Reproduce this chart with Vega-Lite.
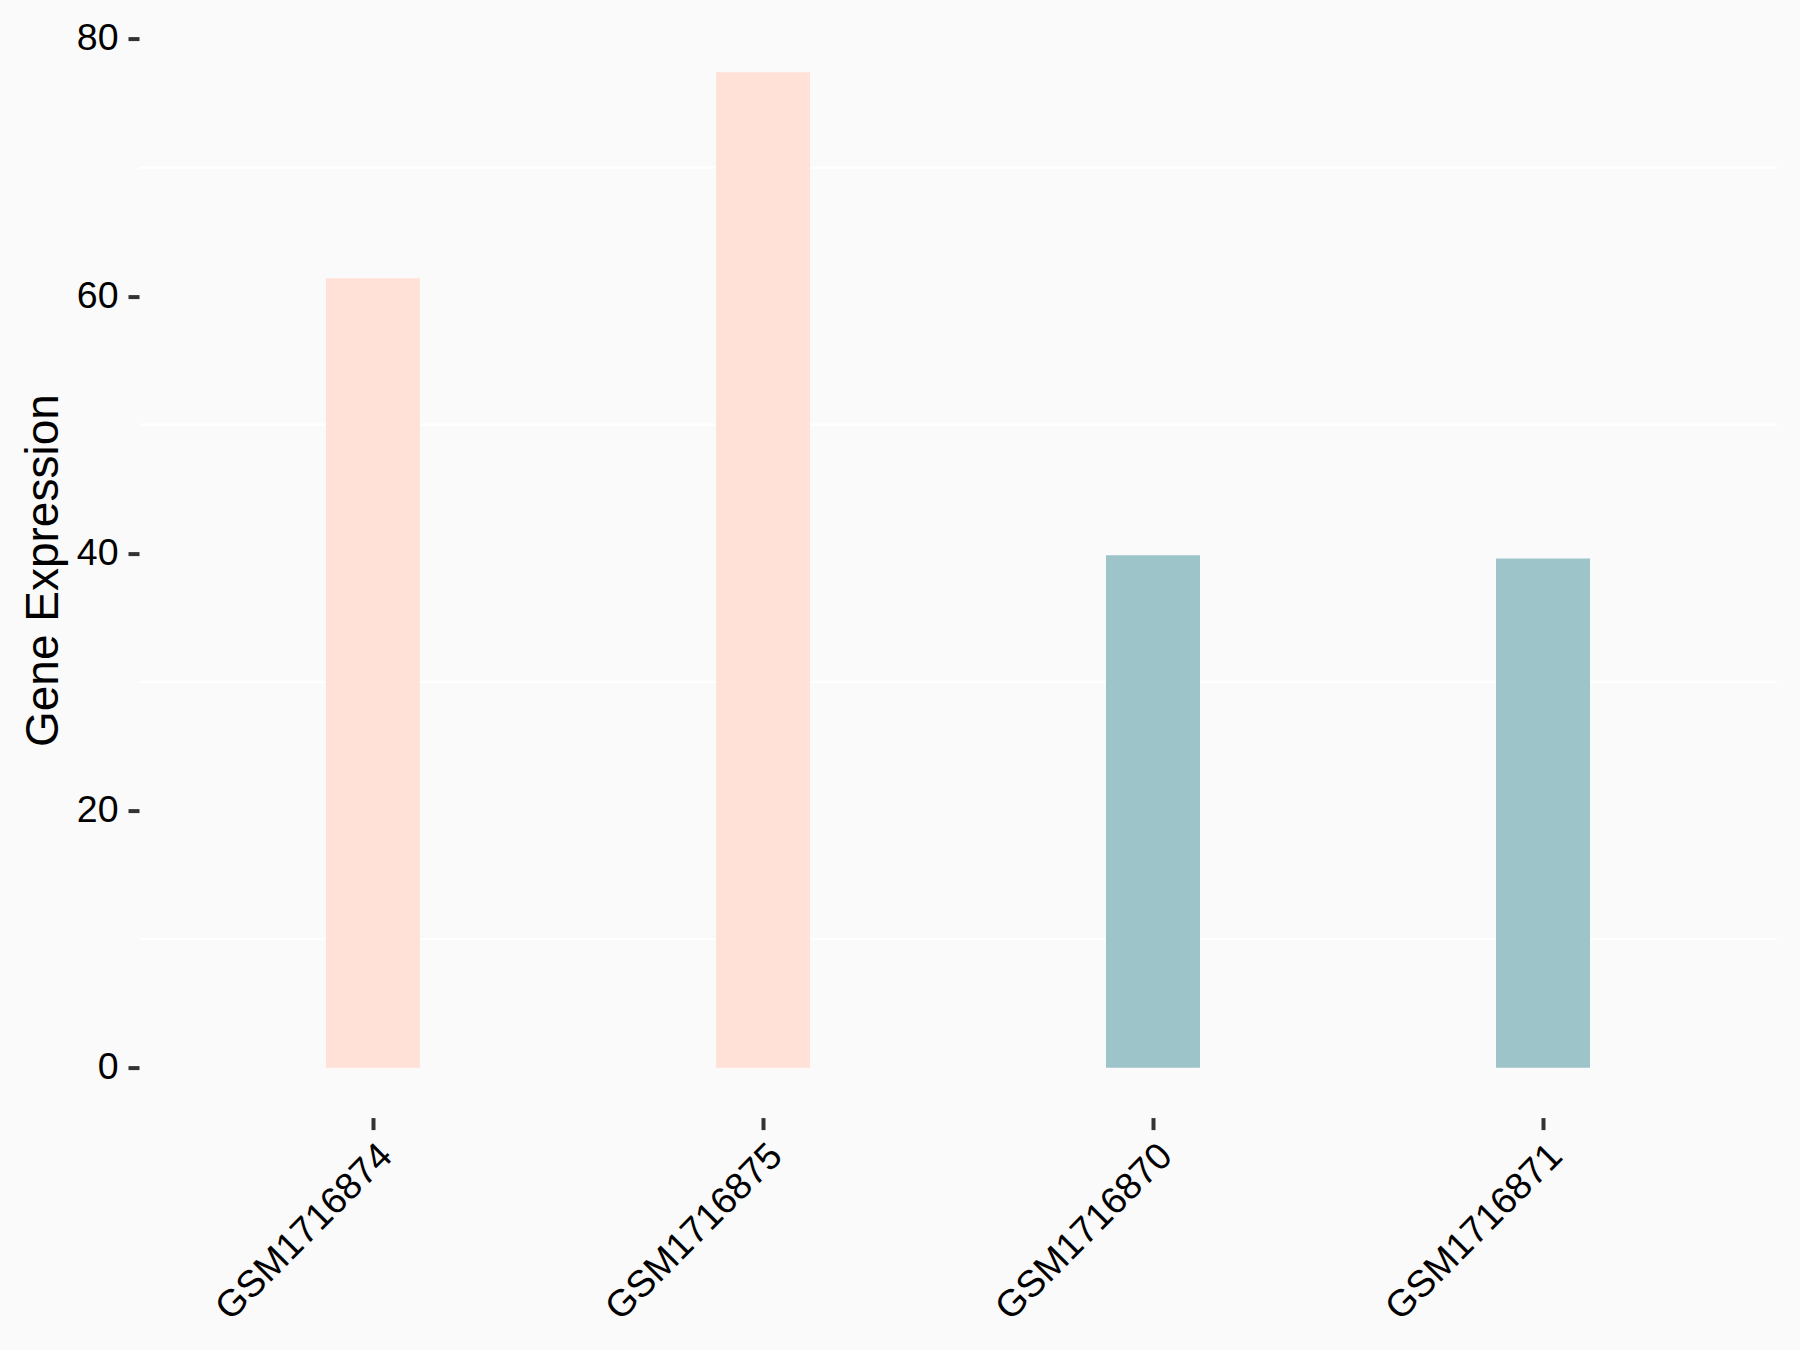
{
  "$schema": "https://vega.github.io/schema/vega-lite/v6.json",
  "width": 1638,
  "height": 1095,
  "autosize": {"type": "none"},
  "padding": {"left": 139, "top": 22.6, "right": 23, "bottom": 232.4},
  "background": "#FAFAFA",
  "config": {
    "view": {"stroke": null, "fill": "#FAFAFA"},
    "font": "Liberation Sans"
  },
  "layer": [
    {
      "data": {"values": [{"v": 10}, {"v": 30}, {"v": 50}, {"v": 70}]},
      "mark": {"type": "rule", "color": "#FFFFFF", "strokeWidth": 2.3},
      "encoding": {
        "y": {
          "field": "v",
          "type": "quantitative",
          "scale": {"domain": [-3.87, 81.27], "nice": false, "zero": false},
          "axis": {
            "title": "Gene Expression",
            "values": [0, 20, 40, 60, 80],
            "domain": false,
            "grid": false,
            "tickSize": 11,
            "tickWidth": 4,
            "tickColor": "#333333",
            "labelPadding": 10,
            "labelFontSize": 37.5,
            "labelColor": "#000000",
            "labelFont": "Liberation Sans",
            "labelBaseline": "middle",
            "titleFontSize": 46,
            "titleFontWeight": "normal",
            "titleColor": "#000000",
            "titleFont": "Liberation Sans",
            "titleAngle": -90,
            "titleAlign": "center",
            "titleBaseline": "alphabetic",
            "titleX": -82,
            "titleY": 547.5
          }
        }
      }
    },
    {
      "data": {
        "values": [
          {"sample": "GSM1716874", "expression": 61.4, "group": "A"},
          {"sample": "GSM1716875", "expression": 77.4, "group": "A"},
          {"sample": "GSM1716870", "expression": 39.85, "group": "B"},
          {"sample": "GSM1716871", "expression": 39.6, "group": "B"}
        ]
      },
      "mark": {"type": "bar"},
      "encoding": {
        "x": {
          "field": "sample",
          "type": "nominal",
          "sort": null,
          "scale": {"paddingInner": 0.759, "paddingOuter": 0.4795},
          "axis": {
            "title": null,
            "domain": false,
            "grid": false,
            "ticks": true,
            "tickSize": 12,
            "tickWidth": 4,
            "tickColor": "#333333",
            "labelAngle": -45,
            "labelAlign": "right",
            "labelBaseline": "top",
            "labelPadding": 7,
            "labelLimit": 0,
            "labelFontSize": 37.5,
            "labelColor": "#000000",
            "labelFont": "Liberation Sans"
          }
        },
        "y": {
          "field": "expression",
          "type": "quantitative",
          "title": "Gene Expression"
        },
        "y2": {"datum": 0},
        "color": {
          "field": "group",
          "type": "nominal",
          "scale": {"domain": ["A", "B"], "range": ["#FFE1D7", "#9DC4C8"]},
          "legend": null
        }
      }
    }
  ]
}
